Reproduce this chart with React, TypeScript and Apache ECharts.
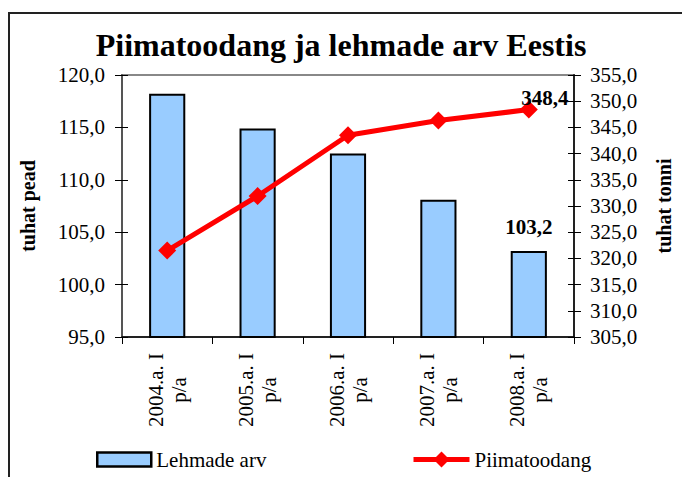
import React, { useEffect, useRef } from "react";
import * as echarts from "echarts";

const categories = ["2004.a. I\np/a", "2005.a. I\np/a", "2006.a. I\np/a", "2007.a. I\np/a", "2008.a. I\np/a"];
const cows = [118.2, 114.9, 112.5, 108.1, 103.2];
const milk = [321.5, 331.9, 343.5, 346.3, 348.4];
const leftAxis = { min: 95, max: 120, interval: 5 };
const rightAxis = { min: 305, max: 355, interval: 5 };

const FONT = "'Liberation Serif', 'Times New Roman', serif";
const fmt = (v: number) => v.toFixed(1).replace(".", ",");

export default function App() {
  const ref = useRef<HTMLDivElement>(null);
  useEffect(() => {
    if (!ref.current) return;
    const chart = echarts.init(ref.current, null, { renderer: "svg" });
    const lastIdx = cows.length - 1;
    const option: any = {
      animation: false,
      backgroundColor: "#fff",
      textStyle: { fontFamily: FONT, color: "#000" },
      title: {
        text: "Piimatoodang ja lehmade arv Eestis",
        left: "center",
        top: 24,
        textStyle: { fontFamily: FONT, fontSize: 32, fontWeight: "bold", color: "#000" },
      },
      graphic: [
        {
          type: "rect",
          shape: { x: 9, y: 13, width: 720, height: 520 },
          style: { fill: "none", stroke: "#222", lineWidth: 2 },
          silent: true,
        },
      ],
      grid: {
        left: 122,
        right: 99,
        top: 75,
        bottom: 140,
        show: true,
        borderColor: "#888",
        borderWidth: 2,
      },
      legend: [
        {
          data: [{ name: "Lehmade arv", icon: "rect" }],
          left: 91,
          top: 444,
          itemWidth: 54,
          itemHeight: 14,
          itemGap: 0,
          itemStyle: { borderColor: "#000", borderWidth: 2.5 },
          textStyle: { fontFamily: FONT, fontSize: 21, color: "#000" },
        },
        {
          data: ["Piimatoodang"],
          left: 406,
          top: 444,
          itemWidth: 56,
          itemHeight: 20,
          itemGap: 0,
          lineStyle: { width: 5 },
          textStyle: { fontFamily: FONT, fontSize: 21, color: "#000" },
        },
      ],
      xAxis: {
        type: "category",
        data: categories,
        boundaryGap: true,
        axisLine: { lineStyle: { color: "#000", width: 1.5 } },
        axisTick: { show: true, length: 7, lineStyle: { color: "#000" } },
        axisLabel: {
          rotate: 90,
          align: "center",
          verticalAlign: "middle",
          margin: 53,
          fontFamily: FONT,
          fontSize: 21,
          lineHeight: 23,
          color: "#000",
        },
      },
      yAxis: [
        {
          type: "value",
          position: "left",
          ...leftAxis,
          name: "tuhat pead",
          nameLocation: "middle",
          nameGap: 84,
          nameRotate: 90,
          nameTextStyle: { fontFamily: FONT, fontSize: 20, fontWeight: "bold", color: "#000" },
          axisLine: { show: true, lineStyle: { color: "#555", width: 2 } },
          axisTick: { show: true, length: 7, lineStyle: { color: "#000" } },
          axisLabel: { formatter: fmt, margin: 17, fontFamily: FONT, fontSize: 21, color: "#000" },
          splitLine: { show: false },
        },
        {
          type: "value",
          position: "right",
          ...rightAxis,
          name: "tuhat tonni",
          nameLocation: "middle",
          nameGap: 80,
          nameRotate: 90,
          nameTextStyle: { fontFamily: FONT, fontSize: 20, fontWeight: "bold", color: "#000" },
          axisLine: { show: true, lineStyle: { color: "#222", width: 2 } },
          axisTick: { show: true, length: 7, lineStyle: { color: "#000" } },
          axisLabel: { formatter: fmt, margin: 16, fontFamily: FONT, fontSize: 21, color: "#000" },
          splitLine: { show: false },
        },
        {
          type: "value",
          position: "left",
          ...leftAxis,
          axisLine: { show: false },
          axisTick: { show: true, inside: true, length: 6, lineStyle: { color: "#000" } },
          axisLabel: { show: false },
          splitLine: { show: false },
        },
        {
          type: "value",
          position: "right",
          ...rightAxis,
          axisLine: { show: false },
          axisTick: { show: true, inside: true, length: 6, lineStyle: { color: "#000" } },
          axisLabel: { show: false },
          splitLine: { show: false },
        },
      ],
      series: [
        {
          name: "Lehmade arv",
          type: "bar",
          yAxisIndex: 0,
          barWidth: "40%",
          itemStyle: { color: "#99CCFF", borderColor: "#000", borderWidth: 2 },
          data: cows.map((v, i) =>
            i === lastIdx
              ? {
                  value: v,
                  label: {
                    show: true,
                    position: "top",
                    distance: 14,
                    formatter: (p: any) => fmt(p.value),
                    fontFamily: FONT,
                    fontSize: 21,
                    fontWeight: "bold",
                    color: "#000",
                  },
                }
              : v
          ),
        },
        {
          name: "Piimatoodang",
          type: "line",
          yAxisIndex: 1,
          symbol: "diamond",
          symbolSize: 18,
          lineStyle: { color: "#FF0000", width: 5 },
          itemStyle: { color: "#FF0000" },
          data: milk.map((v, i) =>
            i === lastIdx
              ? {
                  value: v,
                  label: {
                    show: true,
                    position: "top",
                    distance: 0,
                    offset: [16, 8],
                    formatter: (p: any) => fmt(p.value),
                    fontFamily: FONT,
                    fontSize: 21,
                    fontWeight: "bold",
                    color: "#000",
                  },
                }
              : v
          ),
        },
      ],
    };
    chart.setOption(option);
    return () => chart.dispose();
  }, []);
  return (
    <div
      ref={ref}
      style={{ position: "fixed", left: 0, top: 0, width: 682, height: 477, background: "#fff" }}
    />
  );
}
